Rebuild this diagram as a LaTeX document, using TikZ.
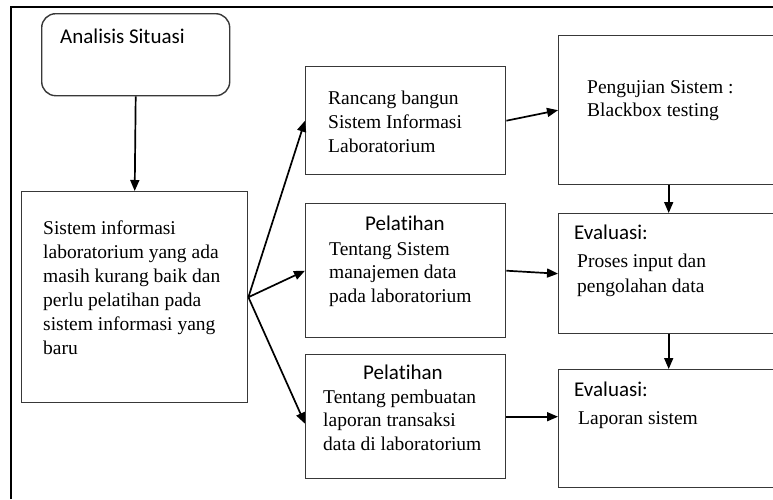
\documentclass[tikz,border=0pt]{standalone}
\usepackage{fontspec}
\setmainfont{Liberation Serif}
\newfontfamily\calfont[Ligatures=NoCommon]{Carlito}
\usetikzlibrary{arrows.meta}
\tikzset{
  box/.style={draw=black!78, line width=1.4pt, rectangle, anchor=north west, inner sep=0pt},
  rbox/.style={box, rounded corners=14pt},
  arr/.style={draw=black, line width=1.7pt, -{Triangle[length=11pt,width=9pt]}},
  serif/.style={inner sep=0pt, anchor=base west, align=left, font={\fontsize{19.5}{24}\selectfont}},
  sans/.style={inner sep=0pt, anchor=base west, align=left, font={\calfont\fontsize{21}{24}\selectfont}},
}
\begin{document}
\begin{tikzpicture}[x=1pt,y=-1pt]
\useasboundingbox (0,0) rectangle (773,499);
\clip (0,0) rectangle (773,499);
\fill[white] (0,0) rectangle (773,499);
% outer frame
\coordinate (fbl) at (11,499);
\coordinate (ftl) at (11,7);
\coordinate (ftr) at (773,7);
\draw[line width=1.6pt, black] (fbl) -- (ftl) -- (ftr);
% boxes
\node[rbox, minimum width=188pt, minimum height=82pt] (ana) at (41,13) {};
\node[box, minimum width=226pt, minimum height=211pt] (sis) at (21,191) {};
\node[box, minimum width=200pt, minimum height=108pt] (ran) at (305,66) {};
\node[box, minimum width=200pt, minimum height=134pt] (mid) at (305,203) {};
\node[box, minimum width=200pt, minimum height=124pt] (bot) at (305,354) {};
\node[box, minimum width=220pt, minimum height=149pt] (peng) at (558,35) {};
\node[box, minimum width=220pt, minimum height=120pt] (ev1) at (558,213) {};
\node[box, minimum width=220pt, minimum height=118pt] (ev2) at (558,369) {};
% texts (base anchor = baseline of the last line)
\node[sans] (tana) at (60,43) {Analisis Situasi};
\node[serif] (tsis) at (43,354) {Sistem informasi\\laboratorium yang ada\\masih kurang baik dan\\perlu pelatihan pada\\sistem informasi yang\\baru};
\node[serif] (tran) at (328,152) {Rancang bangun\\Sistem Informasi\\Laboratorium};
\node[sans] (tmid1) at (365,230) {Pelatihan};
\node[serif, font={\fontsize{19.5}{23.5}\selectfont}] (tmid2) at (329,302) {Tentang Sistem\\manajemen data\\pada laboratorium};
\node[sans] (tbot1) at (363,379) {Pelatihan};
\node[serif, font={\fontsize{19.5}{23.5}\selectfont}] (tbot2) at (323,450) {Tentang pembuatan\\laporan transaksi\\data di laboratorium};
\node[serif, font={\fontsize{19.5}{23}\selectfont}] (tpeng) at (587,116) {Pengujian Sistem :\\Blackbox testing};
\node[sans] (tev1a) at (574,239) {Evaluasi:};
\node[serif, font={\fontsize{19.5}{25}\selectfont}] (tev1b) at (577,292) {Proses input dan\\pengolahan data};
\node[sans] (tev2a) at (574,396) {Evaluasi:};
\node[serif] (tev2b) at (578,424) {Laporan sistem};
% connectors
\draw[arr] (ana.south) -- (sis.north);
\draw[arr] (sis.east) -- (ran.west);
\draw[arr] (sis.east) -- (mid.west);
\draw[arr] (sis.east) -- ([yshift=-7pt]bot.west);
\draw[arr] (ran.east) -- (peng.west);
\draw[arr] (mid.east) -- (ev1.west);
\draw[arr] (bot.east) -- (bot.east -| ev2.west);
\draw[arr] (peng.south) -- (ev1.north);
\draw[arr] (ev1.south) -- (ev2.north);
\end{tikzpicture}
\end{document}
